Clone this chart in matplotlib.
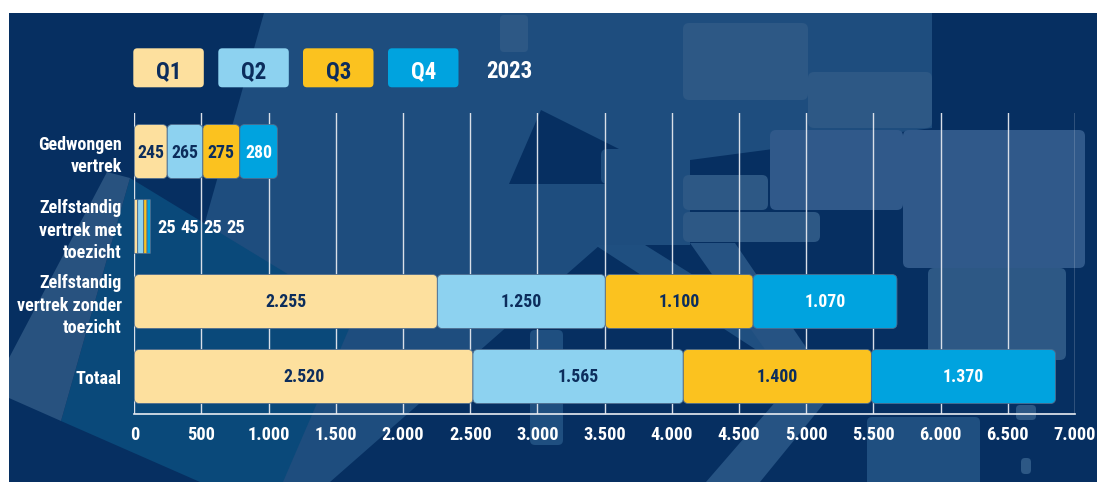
import matplotlib
matplotlib.use("Agg")
import matplotlib.pyplot as plt
from matplotlib import font_manager as fm
from matplotlib.patches import FancyBboxPatch, Polygon

# ---------------- data ----------------
categories = ["Gedwongen\nvertrek", "Zelfstandig\nvertrek met\ntoezicht",
              "Zelfstandig\nvertrek zonder\ntoezicht", "Totaal"]
quarters = ["Q1", "Q2", "Q3", "Q4"]
q1 = [245, 25, 2255, 2520]
q2 = [265, 45, 1250, 1565]
q3 = [275, 25, 1100, 1400]
q4 = [280, 25, 1070, 1370]
year_label = "2023"
xticks = list(range(0, 7001, 500))
xticklabels = ["0" if v == 0 else f"{v:,}".replace(",", ".") for v in xticks]

colors = ["#FDE09E", "#8DD2F0", "#FBC21F", "#00A3DF"]
text_colors = ["#0C2D5C", "#0C2D5C", "#0C2D5C", "#FFFFFF"]
NAVY = "#062F61"

names = {f.name for f in fm.fontManager.ttflist}
cond = [n for n in ["Roboto Condensed", "DejaVu Sans Condensed", "Liberation Sans Narrow"]
        if n in names]
FONT = cond + ["DejaVu Sans"]
plt.rcParams["font.family"] = FONT
plt.rcParams["font.stretch"] = "condensed"

W, H = 1097, 482
fig = plt.figure(figsize=(W / 100, H / 100), dpi=100, facecolor="white")

def P(x, y):
    return (x / W, 1 - y / H)

def poly(pts, color, alpha=1.0, z=-5):
    fig.patches.append(Polygon([P(*p) for p in pts], closed=True, facecolor=color,
                               edgecolor="none", alpha=alpha, transform=fig.transFigure,
                               zorder=z))

def rrect(x0, y0, x1, y1, color, alpha=1.0, z=-4, r=6):
    a, b = P(x0, y1)
    c, d = P(x1, y0)
    fig.patches.append(FancyBboxPatch((a, b), c - a, d - b,
                                      boxstyle=f"round,pad=0,rounding_size={r / W}",
                                      mutation_aspect=W / H, facecolor=color,
                                      edgecolor="none", alpha=alpha,
                                      transform=fig.transFigure, zorder=z))

# ---------------- decorative background ----------------
MED = "#1E4D7E"
LIGHT = "#2D5885"
TEAL = "#0A497A"
poly([(9, 13), (1097, 13), (1097, 482), (9, 482)], NAVY, z=-10)
# big medium tilted area
poly([(264, 13), (932, 13), (932, 128), (690, 160), (690, 245), (600, 245),
      (330, 482), (283, 482), (200, 240)], MED, z=-9)
# teal tilted rectangle lower-left
poly([(130, 178), (355, 315), (283, 482), (200, 482), (61, 421)], TEAL, z=-8)
# grey-blue strip far left
poly([(107, 172), (130, 178), (61, 421), (9, 398), (9, 358)], "#28527F", z=-7)
# dark notch
poly([(541, 110), (651, 165), (651, 184), (509, 184)], NAVY, z=-7)
# diagonal light bands in the lower middle
poly([(595, 245), (645, 245), (805, 345), (775, 362)], "#1F4F80", z=-7)
poly([(690, 243), (735, 243), (835, 390), (760, 482), (706, 482), (790, 385)], "#265383", z=-7)
# small tab at top
rrect(500, 15, 528, 52, LIGHT, z=-6, r=4)
# rounded rectangles
rrect(683, 23, 808, 100, LIGHT)
rrect(808, 72, 932, 128, LIGHT)
rrect(770, 130, 903, 210, "#30598A")
rrect(903, 130, 1085, 268, "#30598A")
rrect(683, 175, 768, 210, LIGHT)
rrect(683, 212, 820, 242, LIGHT)
rrect(928, 268, 1066, 360, LIGHT)
rrect(601, 149, 683, 184, MED)
rrect(509, 184, 683, 245, MED)
rrect(530, 330, 563, 445, "#1F4F80", r=5)
rrect(867, 417, 980, 500, "#1F4F80", r=5)
rrect(1016, 405, 1036, 420, LIGHT, r=4)
rrect(1021, 458, 1031, 474, LIGHT, r=4)

# ---------------- axes ----------------
ax = fig.add_axes([134.3 / W, (H - 414) / H, (1075 - 134.3) / W, (414 - 113.3) / H])
ax.set_facecolor("none")
ax.set_xlim(0, 7000)
ax.set_ylim(3.5, -0.51)

for s in ["top", "right", "left"]:
    ax.spines[s].set_visible(False)
ax.spines["bottom"].set_color("#E8ECF2")
ax.spines["bottom"].set_linewidth(1.2)

ax.set_xticks(xticks)
ax.set_xticklabels(xticklabels, fontsize=13.2, fontweight="bold", color="white")
ax.tick_params(axis="x", length=0, pad=8.5)
ax.set_yticks(range(len(categories)))
ax.set_yticklabels(categories, fontsize=13, fontweight="bold", color="white",
                   linespacing=1.32)
ax.tick_params(axis="y", length=0, pad=9.1)
ax.grid(axis="x", color="#D9DFE8", linewidth=1.0)
ax.set_axisbelow(True)

xu = 7000 / (1075 - 134.3)
yu = 4.01 / (414 - 113.3)
aspect = yu / xu

series = [q1, q2, q3, q4]
left = [0] * len(categories)
for qi, vals in enumerate(series):
    bars = ax.barh(range(len(categories)), vals, left=left, height=0.72,
                   color=colors[qi])
    for ci, rect in enumerate(bars.patches):
        x0, y0 = rect.get_x(), rect.get_y()
        w, h = rect.get_width(), rect.get_height()
        rect.set_visible(False)
        r = min(5 * xu, w * 0.2)
        ax.add_patch(FancyBboxPatch((x0, y0), w, h,
                                    boxstyle=f"round,pad=0,rounding_size={r}",
                                    mutation_aspect=aspect, facecolor=colors[qi],
                                    edgecolor="#4E6C8E", linewidth=0.6, zorder=3))
        if ci == 1:
            continue
        ax.annotate(f"{vals[ci]:,}".replace(",", "."), xy=(x0 + w / 2, ci),
                    xytext=(0, -0.7), textcoords="offset points",
                    ha="center", va="center", fontsize=12.8, fontweight="bold",
                    color=text_colors[qi], zorder=4)
    left = [a + b for a, b in zip(left, vals)]

# labels of the tiny bar, set to its right
end_small = left[1]
offsets = [16, 39, 62, 85]
for qi, vals in enumerate(series):
    ax.annotate(str(vals[1]), xy=(end_small, 1), xytext=(offsets[qi] * 0.72, -0.7),
                textcoords="offset points", ha="center", va="center",
                fontsize=13.2, fontweight="bold", color="white", zorder=4)

# ---------------- legend ----------------
box_x = [133.3, 218.3, 303, 388]
for qi, q in enumerate(quarters):
    rrect(box_x[qi], 48.3, box_x[qi] + 70.5, 87.3, colors[qi], z=2, r=4)
    cx, cy = P(box_x[qi] + 35.2, 72)
    fig.text(cx, cy, q, ha="center", va="center", fontsize=16.5, fontweight="bold",
             color=text_colors[qi], zorder=3)
cx, cy = P(509, 72)
fig.text(cx, cy, year_label, ha="center", va="center", fontsize=16.5,
         fontweight="bold", color="white", zorder=3)

fig.savefig("out.png", dpi=100, facecolor="white")
